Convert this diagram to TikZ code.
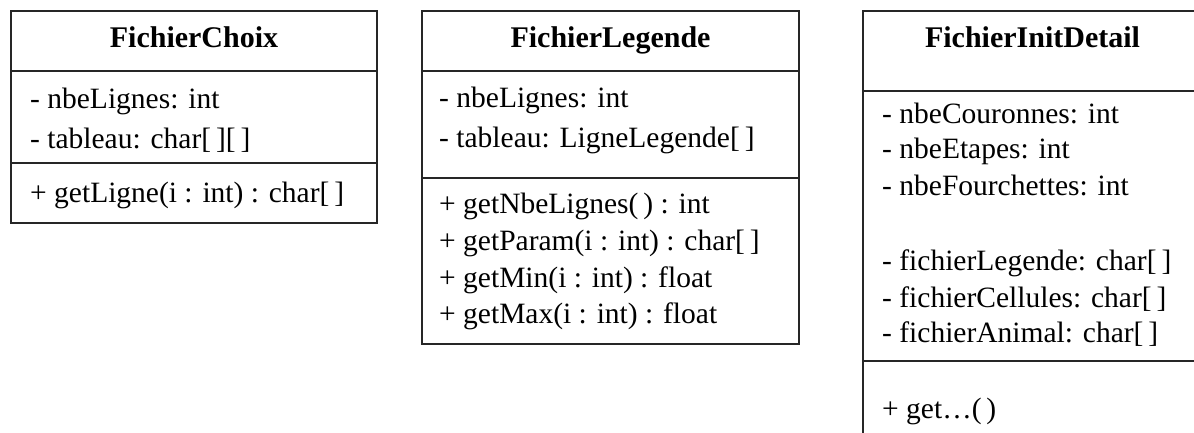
\documentclass[tikz,border=0pt]{standalone}
\usepackage{fontspec}
\setmainfont{Liberation Serif}
\begin{document}
\begin{tikzpicture}[x=1pt,y=-1pt,
  box/.style={draw=black!85,line width=2pt},
  title/.style={anchor=base,inner sep=0pt,font=\fontsize{30}{34}\selectfont\bfseries},
  member/.style={anchor=base west,inner sep=0pt,font=\fontsize{29.5}{34}\selectfont}]
\useasboundingbox (0,0) rectangle (1194,432);
\clip (0,0) rectangle (1194,432);
\fill[white] (0,0) rectangle (1194,432);
% Box 1
\draw[box] (11,11) rectangle (377,223);
\draw[box] (11,71) -- (377,71);
\draw[box] (11,163) -- (377,163);
\node[title] (t1) at (194,47) {FichierChoix};
\node[member] (a11) at (30,108) {- nbeLignes: int};
\node[member] (a12) at (30,148) {- tableau: char[\,][\,]};
\node[member] (m11) at (30,202) {+ getLigne(i : int) : char[\,]};
% Box 2
\draw[box] (422,11) rectangle (799,344);
\draw[box] (422,71) -- (799,71);
\draw[box] (422,178) -- (799,178);
\node[title] (t2) at (610.5,47) {FichierLegende};
\node[member] (a21) at (439,107) {- nbeLignes: int};
\node[member] (a22) at (439,147) {- tableau: LigneLegende[\,]};
\node[member] (m21) at (439,213) {+ getNbeLignes(\,) : int};
\node[member] (m22) at (439,250) {+ getParam(i : int) : char[\,]};
\node[member] (m23) at (439,287) {+ getMin(i : int) : float};
\node[member] (m24) at (439,323) {+ getMax(i : int) : float};
% Box 3
\draw[box] (863,11) rectangle (1202,460);
\draw[box] (863,91) -- (1202,91);
\draw[box] (863,361) -- (1202,361);
\node[title] (t3) at (1032.5,47) {FichierInitDetail};
\node[member] (a31) at (882,123) {- nbeCouronnes: int};
\node[member] (a32) at (882,158) {- nbeEtapes: int};
\node[member] (a33) at (882,195) {- nbeFourchettes: int};
\node[member] (a34) at (882,270) {- fichierLegende: char[\,]};
\node[member] (a35) at (882,307) {- fichierCellules: char[\,]};
\node[member] (a36) at (882,342) {- fichierAnimal: char[\,]};
\node[member] (m31) at (882,418) {+ get\dots(\,)};
\end{tikzpicture}
\end{document}
